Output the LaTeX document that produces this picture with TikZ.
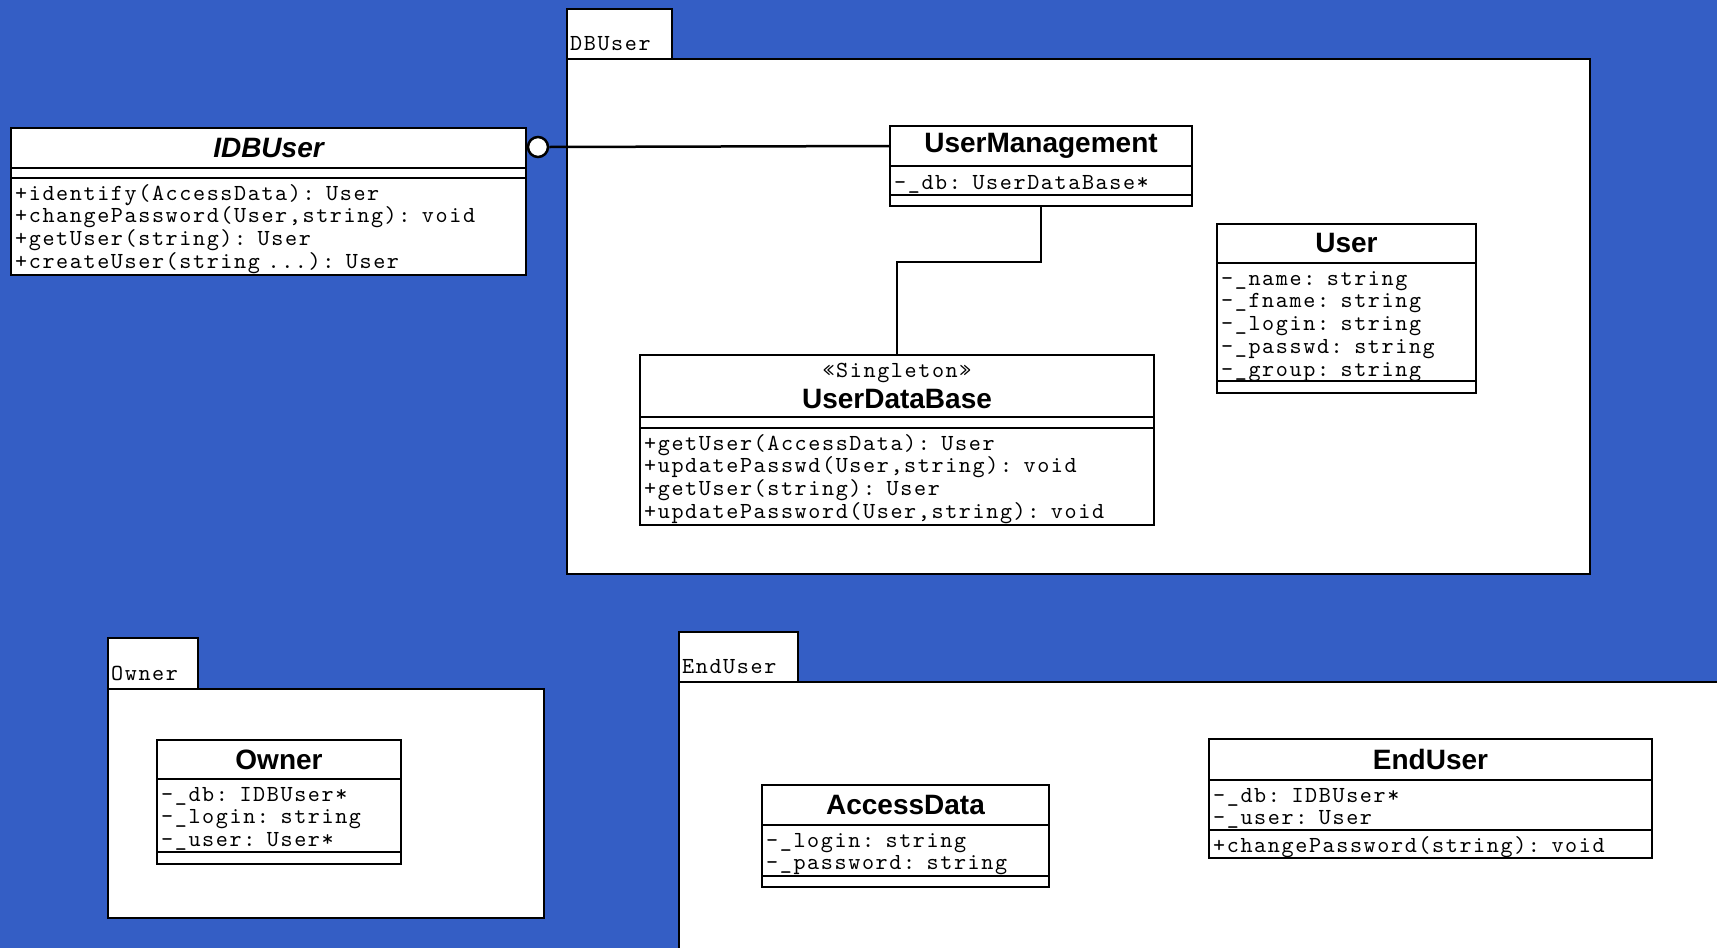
\documentclass[tikz,border=0pt]{standalone}
\usepackage{fontspec}
\setmainfont{Liberation Sans}
\newfontfamily\monof{lmmono10-regular.otf}[LetterSpace=7.0,WordSpace=1.117]
\definecolor{bgblue}{RGB}{52,94,197}
\tikzset{
  box/.style={draw, line width=2.5pt, fill=white, inner sep=0pt, outer sep=0pt, anchor=north west},
  hdr/.style={box, font=\fontsize{28}{30}\selectfont\bfseries, align=center},
  memtxt/.style={anchor=north west, inner sep=0pt, align=left, text width=500pt, xshift=4pt, yshift=-3pt,
    font=\monof\fontsize{23}{22.7}\selectfont,
    execute at begin node={\lineskiplimit=-50pt\noindent\vrule height 19pt depth 0pt width 0pt}},
  pkg/.style={draw, line width=2.5pt, fill=white},
  pkglabel/.style={anchor=base west, inner sep=0pt, font=\monof\fontsize{23}{22.7}\selectfont},
  conn/.style={line width=2.5pt},
}
\begin{document}
\begin{tikzpicture}[x=1pt,y=-1pt]
\useasboundingbox (0,0) rectangle (1717,948);
\clip (0,0) rectangle (1717,948);
\fill[bgblue] (0,0) rectangle (1717,948);

% Packages
\draw[pkg] (567,9) rectangle (672,59);
\draw[pkg] (567,59) rectangle (1590,574);
\node[pkglabel] (dbuL) at (570,50) {DBUser};

\draw[pkg] (108,638) rectangle (198,689);
\draw[pkg] (108,689) rectangle (544,918);
\node[pkglabel] (ownL) at (111,680) {Owner};

\draw[pkg] (679,632) rectangle (798,682);
\draw[pkg] (679,682) rectangle (1760,990);
\node[pkglabel] (euL) at (682,673) {EndUser};

% IDBUser
\node[hdr, minimum width=515pt, minimum height=40pt] (idbH) at (11,128) {\itshape IDBUser};
\node[box, minimum width=515pt, minimum height=10pt] (idbA) at (idbH.south west) {};
\node[box, minimum width=515pt, minimum height=97pt] (idbM) at (idbA.south west) {};
\node[memtxt] (idbMt) at (idbM.north west)
  {+identify(AccessData): User\\+changePassword(User,string): void\\+getUser(string): User\\+createUser(string ...): User};

% UserManagement
\node[hdr, minimum width=302pt, minimum height=40pt] (umH) at (890,126) {UserManagement};
\node[box, minimum width=302pt, minimum height=29pt] (umA) at (umH.south west) {};
\node[memtxt, yshift=-1pt] (umAt) at (umA.north west) {-\_db: UserDataBase*};
\node[box, minimum width=302pt, minimum height=11pt] (umM) at (umA.south west) {};

% UserDataBase
\node[hdr, minimum width=514pt, minimum height=62pt] (udbH) at (640,355)
  {{\monof\fontsize{23}{22.7}\selectfont\mdseries «Singleton»}\\[1pt]UserDataBase};
\node[box, minimum width=514pt, minimum height=11pt] (udbA) at (udbH.south west) {};
\node[box, minimum width=514pt, minimum height=97pt] (udbM) at (udbA.south west) {};
\node[memtxt] (udbMt) at (udbM.north west)
  {+getUser(AccessData): User\\+updatePasswd(User,string): void\\+getUser(string): User\\+updatePassword(User,string): void};

% User
\node[hdr, minimum width=259pt, minimum height=39pt] (usH) at (1217,224) {User};
\node[box, minimum width=259pt, minimum height=118pt] (usA) at (usH.south west) {};
\node[memtxt] (usAt) at (usA.north west)
  {-\_name: string\\-\_fname: string\\-\_login: string\\-\_passwd: string\\-\_group: string};
\node[box, minimum width=259pt, minimum height=12pt] (usM) at (usA.south west) {};

% Owner
\node[hdr, minimum width=244pt, minimum height=39pt] (owH) at (157,740) {Owner};
\node[box, minimum width=244pt, minimum height=73pt] (owA) at (owH.south west) {};
\node[memtxt] (owAt) at (owA.north west)
  {-\_db: IDBUser*\\-\_login: string\\-\_user: User*};
\node[box, minimum width=244pt, minimum height=12pt] (owM) at (owA.south west) {};

% AccessData
\node[hdr, minimum width=287pt, minimum height=40pt] (adH) at (762,785) {AccessData};
\node[box, minimum width=287pt, minimum height=51pt] (adA) at (adH.south west) {};
\node[memtxt] (adAt) at (adA.north west)
  {-\_login: string\\-\_password: string};
\node[box, minimum width=287pt, minimum height=11pt] (adM) at (adA.south west) {};

% EndUser
\node[hdr, minimum width=443pt, minimum height=41pt] (euH) at (1209,739) {EndUser};
\node[box, minimum width=443pt, minimum height=50pt] (euA) at (euH.south west) {};
\node[memtxt] (euAt) at (euA.north west)
  {-\_db: IDBUser*\\-\_user: User};
\node[box, minimum width=443pt, minimum height=28pt] (euM) at (euA.south west) {};
\node[memtxt] (euMt) at (euM.north west)
  {+changePassword(string): void};

% Connectors
\node[circle, draw, line width=2.5pt, fill=white, minimum size=20pt, inner sep=0pt] (lol) at (538,147) {};
\draw[conn] (idbH.east) -- (lol.west);
\draw[conn] (lol.east) -- (umH.west);
\draw[conn] (umM.south) -- ++(0,56) -| (udbH.north);
\end{tikzpicture}
\end{document}
